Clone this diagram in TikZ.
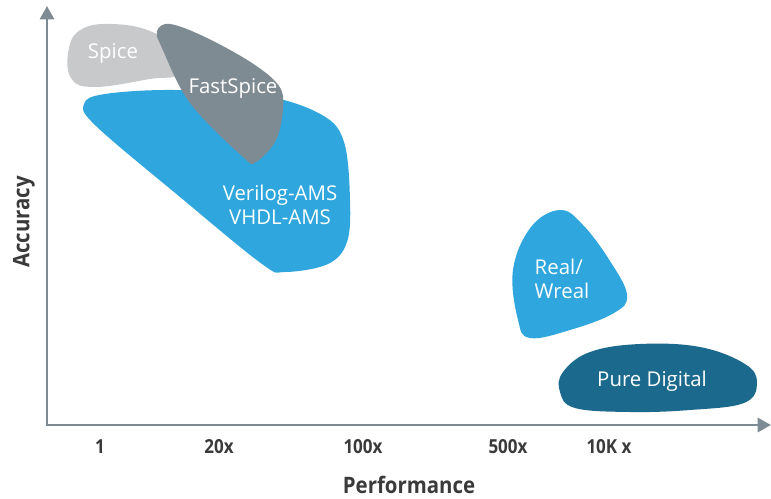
\documentclass[tikz,border=0pt]{standalone}
\usepackage{fontspec}
\setmainfont{Open Sans}
\newfontfamily\tickfont[FakeStretch=0.88]{Open Sans}
\newfontfamily\axisfont[FakeStretch=0.9]{Open Sans}
\usepackage{tikz}
\usetikzlibrary{arrows.meta}
\definecolor{spicegray}{HTML}{C8C9CB}
\definecolor{fastgray}{HTML}{7F8B93}
\definecolor{amsblue}{HTML}{2FA6DD}
\definecolor{digiblue}{HTML}{1B6A8E}
\definecolor{axisgray}{HTML}{7F8B93}
\definecolor{ticktext}{HTML}{3A3A3A}
\tikzset{
    blob/.style={draw=none},
    inlabel/.style={text=white, font=\fontsize{15.3}{18}\selectfont, align=center, inner sep=0pt},
    tick/.style={text=ticktext, font=\tickfont\bfseries\fontsize{14.5}{16}\selectfont, inner sep=0pt},
    axislabel/.style={text=ticktext, font=\axisfont\bfseries\fontsize{17}{19}\selectfont, inner sep=0pt},
    axis/.style={draw=axisgray, line width=2.2pt, {Triangle[length=10pt,width=10.5pt]}-{Triangle[length=10pt,width=10.5pt]}}
}

\begin{document}
\begin{tikzpicture}[x=0.75pt, y=-0.75pt]
\useasboundingbox (0,0) rectangle (771,499);

% shapes
\fill [blob, spicegray] plot [smooth cycle, tension=0.7] coordinates
    {(69,48) (82,29) (112,24) (150,31) (176,50) (178,74) (150,79) (95,87) (71,78)};
\fill [blob, amsblue] plot [smooth cycle, tension=0.6] coordinates
    {(84,104) (105,94) (175,90) (265,96) (322,115) (344,142) (350,200) (347,242) (328,264) (285,272) (262,264) (180,197) (96,126)};
\fill [blob, fastgray] plot [smooth cycle, tension=0.6] coordinates
    {(157,31) (170,24) (205,37) (252,63) (279,86) (283,108) (276,140) (256,162) (243,157) (190,103) (162,48)};
\fill [blob, amsblue] plot [smooth cycle, tension=0.65] coordinates
    {(560,210) (583,225) (610,261) (627,295) (614,313) (570,330) (530,338) (518,320) (513,270) (531,227)};
\fill [blob, digiblue] plot [smooth cycle, tension=0.65] coordinates
    {(563,372) (590,352) (640,344) (700,347) (745,364) (757,383) (744,403) (690,410) (630,412) (575,408) (560,392)};

% labels in shapes
\node [inlabel]                 (spice)   at (113,53)  {Spice};
\node [inlabel]                 (fast)    at (233,88)  {FastSpice};
\node [inlabel]                 (ams)     at (280,205) {Verilog-AMS\\VHDL-AMS};
\node [inlabel, align=left]     (real)    at (562,279) {Real/\\Wreal};
\node [inlabel]                 (digital) at (652,381) {Pure Digital};

% axes
\coordinate (origin) at (47,425);
\coordinate (ytop)   at (47,6);
\coordinate (xend)   at (771,425);
\draw [axis] (ytop) -- (origin) -- (xend);

% ticks
\node [tick] (t1)    at (100,447) {1};
\node [tick] (t20)   at (219,447) {20x};
\node [tick] (t100)  at (363,447) {100x};
\node [tick] (t500)  at (508,447) {500x};
\node [tick] (t10k)  at (609,447) {10K x};

\node [axislabel]            (perf) at (409,485) {Performance};
\node [axislabel, rotate=90] (acc)  at (24,222)  {Accuracy};

\end{tikzpicture}
\end{document}
